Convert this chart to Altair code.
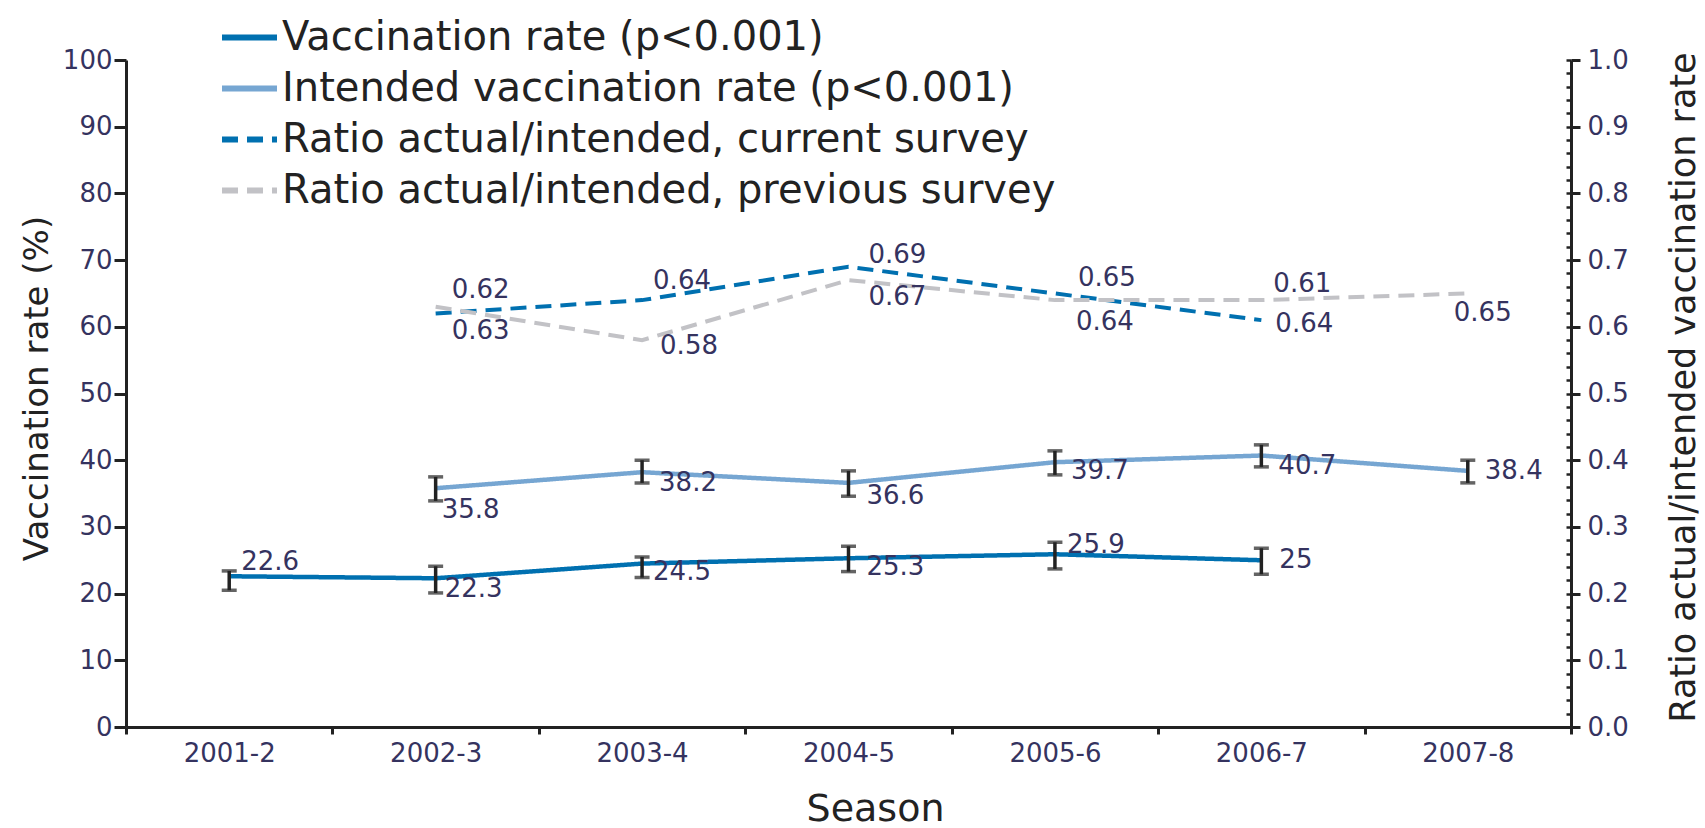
import altair as alt
import pandas as pd

# ---------------- data ----------------
seasons = ["2001-2", "2002-3", "2003-4", "2004-5", "2005-6", "2006-7", "2007-8"]

vacc_rate = [22.6, 22.3, 24.5, 25.3, 25.9, 25.0, None]
vacc_low = [20.5, 20.1, 22.4, 23.3, 23.7, 22.9, None]
vacc_high = [23.4, 24.1, 25.5, 27.1, 27.7, 26.8, None]

intended_rate = [None, 35.8, 38.2, 36.6, 39.7, 40.7, 38.4]
intended_low = [None, 33.9, 36.6, 34.6, 37.8, 39.0, 36.6]
intended_high = [None, 37.5, 40.0, 38.4, 41.4, 42.3, 40.0]

ratio_current = [None, 0.62, 0.64, 0.69, 0.65, 0.61, None]
ratio_previous = [None, 0.63, 0.58, 0.67, 0.64, 0.64, 0.65]

series_names = [
    "Vaccination rate (p<0.001)",
    "Intended vaccination rate (p<0.001)",
    "Ratio actual/intended, current survey",
    "Ratio actual/intended, previous survey",
]

# ---------------- styles ----------------
DARK_BLUE = "#0070b0"
LIGHT_BLUE = "#76a6d2"
GRAY = "#c2c2c6"
AXIS_COLOR = "#222222"
TEXT_COLOR = "#35335f"
FONT = "DejaVu Sans"

# label placement (dx to left edge, dy to middle), keyed by (series index, season)
label_offsets = {
    (0, "2001-2"): (12, -14), (0, "2002-3"): (9, 11), (0, "2003-4"): (11, 8),
    (0, "2004-5"): (18, 9), (0, "2005-6"): (12, -9), (0, "2006-7"): (18, 0),
    (1, "2002-3"): (6, 22), (1, "2003-4"): (17, 11), (1, "2004-5"): (18, 13),
    (1, "2005-6"): (16, 9), (1, "2006-7"): (17, 10), (1, "2007-8"): (17, 0),
    (2, "2002-3"): (16, -23), (2, "2003-4"): (11, -19), (2, "2004-5"): (20, -12),
    (2, "2005-6"): (23, -15), (2, "2006-7"): (12, -36),
    (3, "2002-3"): (16, 24), (3, "2003-4"): (18, 6), (3, "2004-5"): (20, 17),
    (3, "2005-6"): (21, 22), (3, "2006-7"): (14, 24), (3, "2007-8"): (-14, 20),
}

# ---------------- tables ----------------
rows = []
for s, v, lo, hi in zip(seasons, vacc_rate, vacc_low, vacc_high):
    if v is not None:
        rows.append({"season": s, "series": series_names[0], "value": v, "lo": lo, "hi": hi,
                     "label": f"{v:g}"})
for s, v, lo, hi in zip(seasons, intended_rate, intended_low, intended_high):
    if v is not None:
        rows.append({"season": s, "series": series_names[1], "value": v, "lo": lo, "hi": hi,
                     "label": f"{v:g}"})
rates = pd.DataFrame(rows)

rrows = []
for s, v in zip(seasons, ratio_current):
    if v is not None:
        rrows.append({"season": s, "series": series_names[2], "ratio": v, "label": f"{v:g}"})
for s, v in zip(seasons, ratio_previous):
    if v is not None:
        rrows.append({"season": s, "series": series_names[3], "ratio": v, "label": f"{v:g}"})
ratios = pd.DataFrame(rrows)

# ---------------- encodings ----------------
x_enc = alt.X(
    "season:N",
    scale=alt.Scale(type="band", domain=seasons, paddingInner=0, paddingOuter=0),
    bandPosition=0.5,
    axis=alt.Axis(
        title="Season", labelAngle=0, tickBand="extent",
        domainWidth=3, domainColor=AXIS_COLOR, tickColor=AXIS_COLOR, tickWidth=3, tickSize=7,
        labelFontSize=26, labelColor=TEXT_COLOR, labelPadding=6,
        titleFontSize=38, titleFontWeight="normal", titleColor=AXIS_COLOR,
        titleX=749, titleY=82, titleBaseline="middle",
    ),
)

color_legend = alt.Legend(
    title=None, orient="none", legendX=93, legendY=-53, direction="vertical",
    symbolType="stroke", symbolSize=3025, symbolStrokeWidth=6,
    labelFontSize=40, labelColor=AXIS_COLOR, labelFont=FONT, labelOffset=2,
    rowPadding=0, padding=0, labelLimit=1200,
)
color_enc = alt.Color("series:N", scale=alt.Scale(domain=series_names,
                      range=[DARK_BLUE, LIGHT_BLUE, DARK_BLUE, GRAY]), legend=color_legend)
dash_enc = alt.StrokeDash("series:N", scale=alt.Scale(domain=series_names,
                          range=[[1, 0], [1, 0], [16, 9], [16, 9]]), legend=color_legend)

left_scale = alt.Scale(domain=[0, 100], nice=False, zero=True)
right_scale = alt.Scale(domain=[0, 1], nice=False, zero=True)

left_axis = alt.Axis(
    orient="left", title="Vaccination rate (%)", values=list(range(0, 101, 10)),
    domainWidth=3, domainColor=AXIS_COLOR, tickColor=AXIS_COLOR, tickWidth=3, tickSize=12,
    labelFontSize=26, labelColor=TEXT_COLOR, labelPadding=2,
    titleFontSize=34, titleFontWeight="normal", titleColor=AXIS_COLOR,
    titleAngle=270, titleX=-89, titleY=328, titleBaseline="middle", titleAlign="center",
)
right_axis = alt.Axis(
    orient="right", title="Ratio actual/intended vaccination rate",
    values=[i / 10 for i in range(11)], format=".1f",
    domainWidth=3, domainColor=AXIS_COLOR, tickColor=AXIS_COLOR, tickWidth=3, tickSize=9,
    labelFontSize=26, labelColor=TEXT_COLOR, labelPadding=7,
    titleFontSize=35, titleFontWeight="normal", titleColor=AXIS_COLOR,
    titleAngle=270, titleX=112, titleY=327, titleBaseline="middle", titleAlign="center",
)
minor_axis = alt.Axis(
    orient="right", title=None, values=[i / 50 for i in range(51)], labels=False,
    domain=False, tickColor=AXIS_COLOR, tickWidth=2.5, tickSize=5, offset=-5,
)

# ---------------- left (rates) ----------------
base_rates = alt.Chart(rates)
rate_lines = base_rates.mark_line(strokeWidth=4.5).encode(
    x=x_enc, y=alt.Y("value:Q", scale=left_scale, axis=left_axis),
    color=color_enc, strokeDash=dash_enc, detail="series:N",
)
err_rule = base_rates.mark_rule(color=AXIS_COLOR, strokeWidth=3.5).encode(
    x=x_enc, y=alt.Y("lo:Q", scale=left_scale, axis=left_axis), y2="hi:Q",
)
err_lo = base_rates.mark_tick(color=AXIS_COLOR, orient="horizontal", size=15, thickness=3.5).encode(
    x=x_enc, y=alt.Y("lo:Q", scale=left_scale, axis=left_axis),
)
err_hi = base_rates.mark_tick(color=AXIS_COLOR, orient="horizontal", size=15, thickness=3.5).encode(
    x=x_enc, y=alt.Y("hi:Q", scale=left_scale, axis=left_axis),
)
rate_labels = []
for i in range(2):
    for s in seasons:
        if (i, s) in label_offsets:
            dx, dy = label_offsets[(i, s)]
            rate_labels.append(
                base_rates.transform_filter(
                    (alt.datum.season == s) & (alt.datum.series == series_names[i])
                ).mark_text(align="left", baseline="middle", dx=dx, dy=dy, fontSize=26,
                            color=TEXT_COLOR, font=FONT).encode(
                    x=x_enc, y=alt.Y("value:Q", scale=left_scale, axis=left_axis), text="label:N",
                )
            )
left = alt.layer(rate_lines, err_rule, err_lo, err_hi, *rate_labels)

# ---------------- right (ratios) ----------------
base_ratios = alt.Chart(ratios)
ratio_lines = base_ratios.mark_line(strokeWidth=4).encode(
    x=x_enc, y=alt.Y("ratio:Q", scale=right_scale, axis=right_axis),
    color=color_enc, strokeDash=dash_enc, detail="series:N",
)
ratio_labels = []
for i in (2, 3):
    for s in seasons:
        if (i, s) in label_offsets:
            dx, dy = label_offsets[(i, s)]
            ratio_labels.append(
                base_ratios.transform_filter(
                    (alt.datum.season == s) & (alt.datum.series == series_names[i])
                ).mark_text(align="left", baseline="middle", dx=dx, dy=dy, fontSize=26,
                            color=TEXT_COLOR, font=FONT).encode(
                    x=x_enc, y=alt.Y("ratio:Q", scale=right_scale, axis=right_axis), text="label:N",
                )
            )
ratio_group = alt.layer(ratio_lines, *ratio_labels)
minor = base_ratios.mark_point(opacity=0).encode(
    x=x_enc, y=alt.Y("ratio:Q", scale=right_scale, axis=minor_axis),
)
right = alt.layer(ratio_group, minor).resolve_axis(y="independent")

chart = (
    alt.layer(left, right)
    .resolve_scale(y="independent")
    .properties(
        width=1445, height=667,
        autosize=alt.AutoSizeParams(type="none"),
        padding={"left": 126, "top": 60, "right": 134, "bottom": 101},
    )
    .configure(font=FONT)
    .configure_view(stroke=None)
    .configure_axis(grid=False, labelFont=FONT, titleFont=FONT)
)

chart.save("out.html", embed_options={"renderer": "svg", "actions": False})
